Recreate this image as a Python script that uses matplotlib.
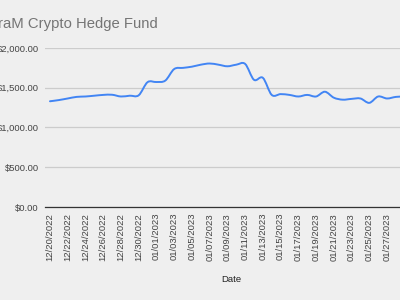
import numpy as np
import matplotlib
matplotlib.use("Agg")
import matplotlib.pyplot as plt
from matplotlib.path import Path
from matplotlib.patches import PathPatch
import datetime as dt

title = "raM Crypto Hedge Fund"
start_date = dt.date(2022, 12, 20)
values = [1330, 1345, 1365, 1385, 1390, 1400, 1410, 1412, 1390, 1400,
          1405, 1570, 1572, 1590, 1735, 1750, 1765, 1790, 1805, 1790,
          1770, 1790, 1800, 1600, 1625, 1410, 1420, 1410, 1390, 1410,
          1390, 1450, 1375, 1350, 1360, 1365, 1310, 1390, 1365, 1385,
          1390, 1395]
y_ticks = [0, 500, 1000, 1500, 2000]
y_labels = ["$0.00", "$500.00", "$1,000.00", "$1,500.00", "$2,000.00"]
x_label = "Date"

n = len(values)
days = np.arange(n)
tick_days = list(range(0, 39, 2))
tick_labels = [(start_date + dt.timedelta(days=int(d))).strftime("%m/%d/%Y") for d in tick_days]

BG = "#efefef"
plt.rcParams['font.family'] = ['Liberation Sans', 'DejaVu Sans']

fig = plt.figure(figsize=(4, 3), dpi=100, facecolor=BG)
ax = fig.add_axes([45/400, 93/300, 355/400, (207-48)/300])
ax.set_facecolor(BG)

ax.set_xlim(-0.56, -0.56 + 355/8.87)
ax.set_ylim(0, 2000)

# smooth curve (Catmull-Rom -> Bezier) through the data
x = days.astype(float)
y = np.array(values, dtype=float)
verts = [(x[0], y[0])]
codes = [Path.MOVETO]
for i in range(n - 1):
    p0 = (x[i-1], y[i-1]) if i > 0 else (x[i], y[i])
    p1 = (x[i], y[i])
    p2 = (x[i+1], y[i+1])
    p3 = (x[i+2], y[i+2]) if i + 2 < n else (x[i+1], y[i+1])
    t = 0.5 / 3
    c1 = (p1[0] + (p2[0]-p0[0]) * t, p1[1] + (p2[1]-p0[1]) * t)
    c2 = (p2[0] - (p3[0]-p1[0]) * t, p2[1] - (p3[1]-p1[1]) * t)
    verts += [c1, c2, p2]
    codes += [Path.CURVE4] * 3
patch = PathPatch(Path(verts, codes), facecolor='none', edgecolor='#4285f4',
                  lw=1.4, zorder=3, capstyle='round', joinstyle='round')
ax.add_patch(patch)

ax.set_yticks(y_ticks)
ax.set_yticklabels(y_labels)
ax.set_xticks(tick_days)
ax.set_xticklabels(tick_labels, rotation=90)
ax.tick_params(axis='both', length=0, labelsize=6.8, labelcolor='#444444')
ax.tick_params(axis='x', pad=4.3)
ax.tick_params(axis='y', pad=4.3)

ax.grid(axis='y', color='#cccccc', lw=0.9)
ax.grid(axis='x', visible=False)
ax.set_axisbelow(True)
for s in ['top', 'right', 'left']:
    ax.spines[s].set_visible(False)
ax.spines['bottom'].set_color('#333333')
ax.spines['bottom'].set_linewidth(0.9)

fig.text(-0.004, 1 - 24/300, title, fontsize=10.7, color='#757575', va='center', ha='left')
fig.text(231/400, 1 - 279/300, x_label, fontsize=6.8, color='#222222', va='center', ha='center')

fig.savefig("out.png", dpi=100, facecolor=BG)
